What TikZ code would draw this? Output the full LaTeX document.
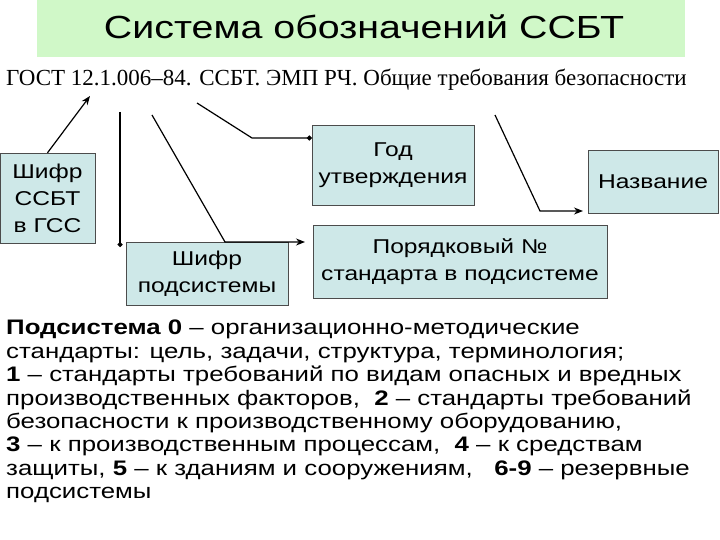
\documentclass[tikz,border=0pt]{standalone}
\usepackage{fontspec}
\setmainfont[FakeStretch=1.23]{Liberation Sans}
\newfontfamily\tms{Liberation Serif}
\usetikzlibrary{arrows.meta}
\definecolor{boxc}{RGB}{206,232,232}
\definecolor{titc}{RGB}{208,248,200}
\begin{document}
\begin{tikzpicture}[x=1pt,y=-1pt,
  bx/.style={draw=black!70,fill=boxc,align=center,inner sep=0pt,font=\fontsize{20}{27}\selectfont},
  ln/.style={line width=1.2pt},
  ar/.style={ln,-{Stealth[length=9pt,width=7pt]}},
  dt/.style={ln,-{Circle[length=5pt]}}]
\useasboundingbox (0,0) rectangle (720,540);
\node[fill=titc,minimum width=648,minimum height=57,anchor=north west,inner sep=0] (t) at (37,0) {};
\node[font=\fontsize{32}{36}\selectfont] (tt) at (364,27) {Система обозначений ССБТ};
\node[anchor=west,inner sep=0,font=\tms\fontsize{23}{26}\selectfont] (g) at (6,80) {ГОСТ 12.1.006–84. ССБТ. ЭМП РЧ. Общие требования безопасности};
\node[bx,minimum width=95,minimum height=90] (a) at (47.5,198) {Шифр\\ССБТ\\в ГСС};
\node[bx,minimum width=162,minimum height=80] (b) at (393,165) {Год\\утверждения};
\node[bx,minimum width=130,minimum height=63] (c) at (653,181.5) {Название};
\node[bx,minimum width=162,minimum height=63] (d) at (207,273.5) {Шифр\\подсистемы};
\node[bx,minimum width=294,minimum height=73] (e) at (460,261.5) {Порядковый №\\стандарта в подсистеме};
\coordinate (p1) at (90,96);
\draw[ar] (a.north) -- (p1);
\coordinate (q1) at (120,112);
\coordinate (q2) at (120,247);
\draw[dt] (q1) -- (q2);
\coordinate (r1) at (152,115);
\coordinate (r2) at (225,242);
\coordinate (r3) at (305,242);
\draw[ar] (r1) -- (r2) -- (r3);
\coordinate (s1) at (197,103);
\coordinate (s2) at (252,138);
\draw[dt] (s1) -- (s2) -- (s2 -| b.west);
\coordinate (u1) at (495,115);
\coordinate (u2) at (540,211);
\coordinate (u3) at (583,211);
\draw[ar] (u1) -- (u2) -- (u3);
\node[anchor=north west,align=left,inner sep=0,font=\fontsize{21}{23.4}\selectfont] (body) at (6,320) {%
\textbf{Подсистема 0} – организационно-методические\\
стандарты: цель, задачи, структура, терминология;\\
\textbf{1} – стандарты требований по видам опасных и вредных\\
производственных факторов,\ \ \textbf{2} – стандарты требований\\
безопасности к производственному оборудованию,\\
\textbf{3} – к производственным процессам,\ \ \textbf{4} – к средствам\\
защиты, \textbf{5} – к зданиям и сооружениям,\ \ \ \textbf{6-9} – резервные\\
подсистемы};
\end{tikzpicture}
\end{document}
